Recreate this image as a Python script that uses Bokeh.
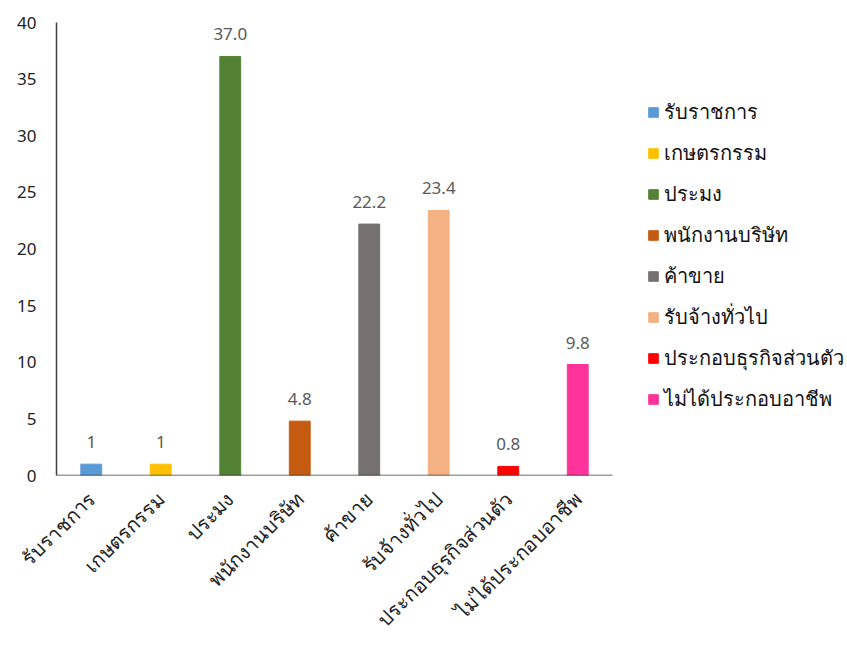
import math
from bokeh.plotting import figure
from bokeh.models import ColumnDataSource, Legend, LegendItem, FixedTicker, LabelSet
from bokeh.core.properties import value
from bokeh.embed import file_html
from bokeh.resources import INLINE

# Occupation categories and their shares
categories = ["รับราชการ", "เกษตรกรรม", "ประมง", "พนักงานบริษัท",
              "ค้าขาย", "รับจ้างทั่วไป", "ประกอบธุรกิจส่วนตัว", "ไม่ได้ประกอบอาชีพ"]
values = [1, 1, 37.0, 4.8, 22.2, 23.4, 0.8, 9.8]
value_labels = ["1", "1", "37.0", "4.8", "22.2", "23.4", "0.8", "9.8"]
colors = ["#5B9BD5", "#FFC000", "#548235", "#C55A11",
          "#767171", "#F4B183", "#FF0000", "#FF3399"]
y_ticks = [0, 5, 10, 15, 20, 25, 30, 35, 40]

FONT = "Noto Sans"

# categories sit at the centres of unit-wide slots 0..n
n = len(categories)
centers = [i + 0.5 for i in range(n)]
source = ColumnDataSource(dict(x=centers, val=values, lab=value_labels, color=colors))

FRAME_W = 791
SLOT_PX = 69.5  # width of one category slot on screen
p = figure(x_range=(0, FRAME_W / SLOT_PX), y_range=(0, 40),
           frame_width=FRAME_W, frame_height=453,
           output_backend="svg", toolbar_location=None,
           min_border_left=56, min_border_top=22, min_border_bottom=180,
           min_border_right=0)

bars = p.vbar(x="x", top="val", width=0.3, color="color", source=source)

# baseline under the categories only
p.segment(x0=[0], y0=[0], x1=[n], y1=[0], line_color="#404040", line_width=1.5)

labels = LabelSet(x="x", y="val", text="lab", source=source,
                  text_align="center", text_baseline="bottom", y_offset=16,
                  text_font=value(FONT), text_font_size="17px", text_color="#595959")
p.add_layout(labels)

# y axis
p.yaxis.ticker = FixedTicker(ticks=y_ticks)
p.yaxis.major_tick_line_color = None
p.yaxis.minor_tick_line_color = None
p.yaxis.axis_line_color = "#404040"
p.yaxis.axis_line_width = 1.5
p.yaxis.major_label_text_font = FONT
p.yaxis.major_label_text_font_size = "17px"
p.yaxis.major_label_text_color = "#222222"
p.yaxis.major_label_standoff = 14

# x axis: category names at slot centres, rotated
p.xaxis.ticker = FixedTicker(ticks=centers)
p.xaxis.major_label_overrides = {c: name for c, name in zip(centers, categories)}
p.xaxis.axis_line_color = None
p.xaxis.major_tick_line_color = None
p.xaxis.minor_tick_line_color = None
p.xaxis.major_label_orientation = math.pi / 4
p.xaxis.major_label_text_font = FONT
p.xaxis.major_label_text_font_size = "20px"
p.xaxis.major_label_text_color = "#222222"
p.xaxis.major_label_standoff = 14

p.xgrid.grid_line_color = None
p.ygrid.grid_line_color = None
p.outline_line_color = None

# legend: one entry per bar, to the right of the bars
items = [LegendItem(label=c, renderers=[bars], index=i) for i, c in enumerate(categories)]
legend = Legend(items=items, location=(591, 60), orientation="vertical",
                glyph_width=12, glyph_height=12, label_standoff=5,
                spacing=9, padding=0, margin=0, border_line_color=None,
                background_fill_alpha=0,
                label_text_font=FONT, label_text_font_size="20px",
                label_text_color="#111111", label_height=20)
p.add_layout(legend)

open("out.html", "w").write(file_html(p, INLINE))
